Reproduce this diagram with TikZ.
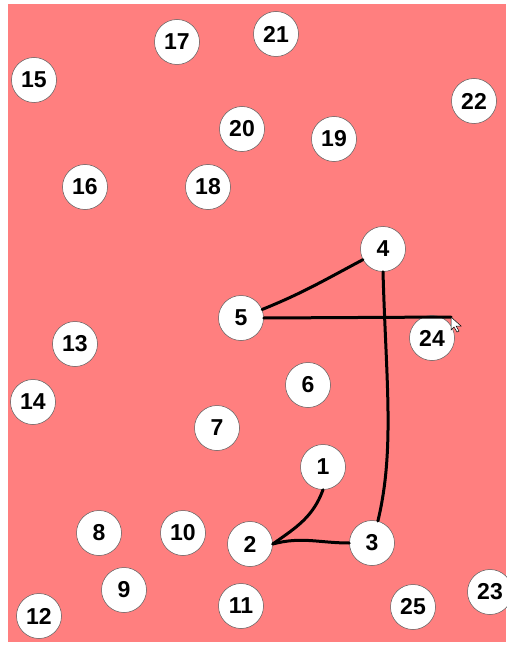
\documentclass[tikz,border=0pt]{standalone}
\usepackage{fontspec}
\setmainfont{Liberation Sans}
\definecolor{boardred}{RGB}{255,127,127}
\tikzset{
  dot/.style={draw=gray!70!black,line width=0.5pt,circle,fill=white,minimum size=45pt,inner sep=0pt,font=\fontsize{23}{23}\selectfont\bfseries},
  stroke/.style={line width=3pt,line cap=round,line join=round}
}
\begin{document}
\begin{tikzpicture}[x=1pt,y=-1pt]
        \useasboundingbox (0,0) rectangle (506,647);
        \fill[boardred] (8,4) rectangle (506,642);
        \foreach \n/\x/\y in {1/323/467,2/250/544,3/372/543,4/383/249,5/241/318,6/308/385,7/217/428,
                8/99/533,9/124/590,10/183/533,11/241/606,12/39/616,13/75/344,14/33/402,15/34/80,
                16/85/187,17/177/42,18/208/187,19/334/139,20/242/129,21/276/34,22/474/101,
                23/490/592,24/432/338,25/413/607} {
                \node[dot] (n\n) at (\x,\y) {\n};
            }
        \coordinate (tip) at (451,317);
        \draw[stroke] (n5) to[out=22,in=208] (n4);
        \draw[stroke] (n5.east) -- (tip);
        \draw[stroke] (n4.south) .. controls (386,380) and (395,450) .. (n3.75);
        \draw[stroke] (n1.south) to[out=-110,in=35] (n2.east);
        \draw[stroke] (n2.east) to[out=15,in=180] (n3.west);
        % pointer
        \draw[fill=white,line width=0.5pt] (tip) -- ++(0,13) -- ++(3,-3) -- ++(3,5) -- ++(2,-1) -- ++(-3,-5) -- ++(5,0) -- cycle;
    \end{tikzpicture}
\end{document}
